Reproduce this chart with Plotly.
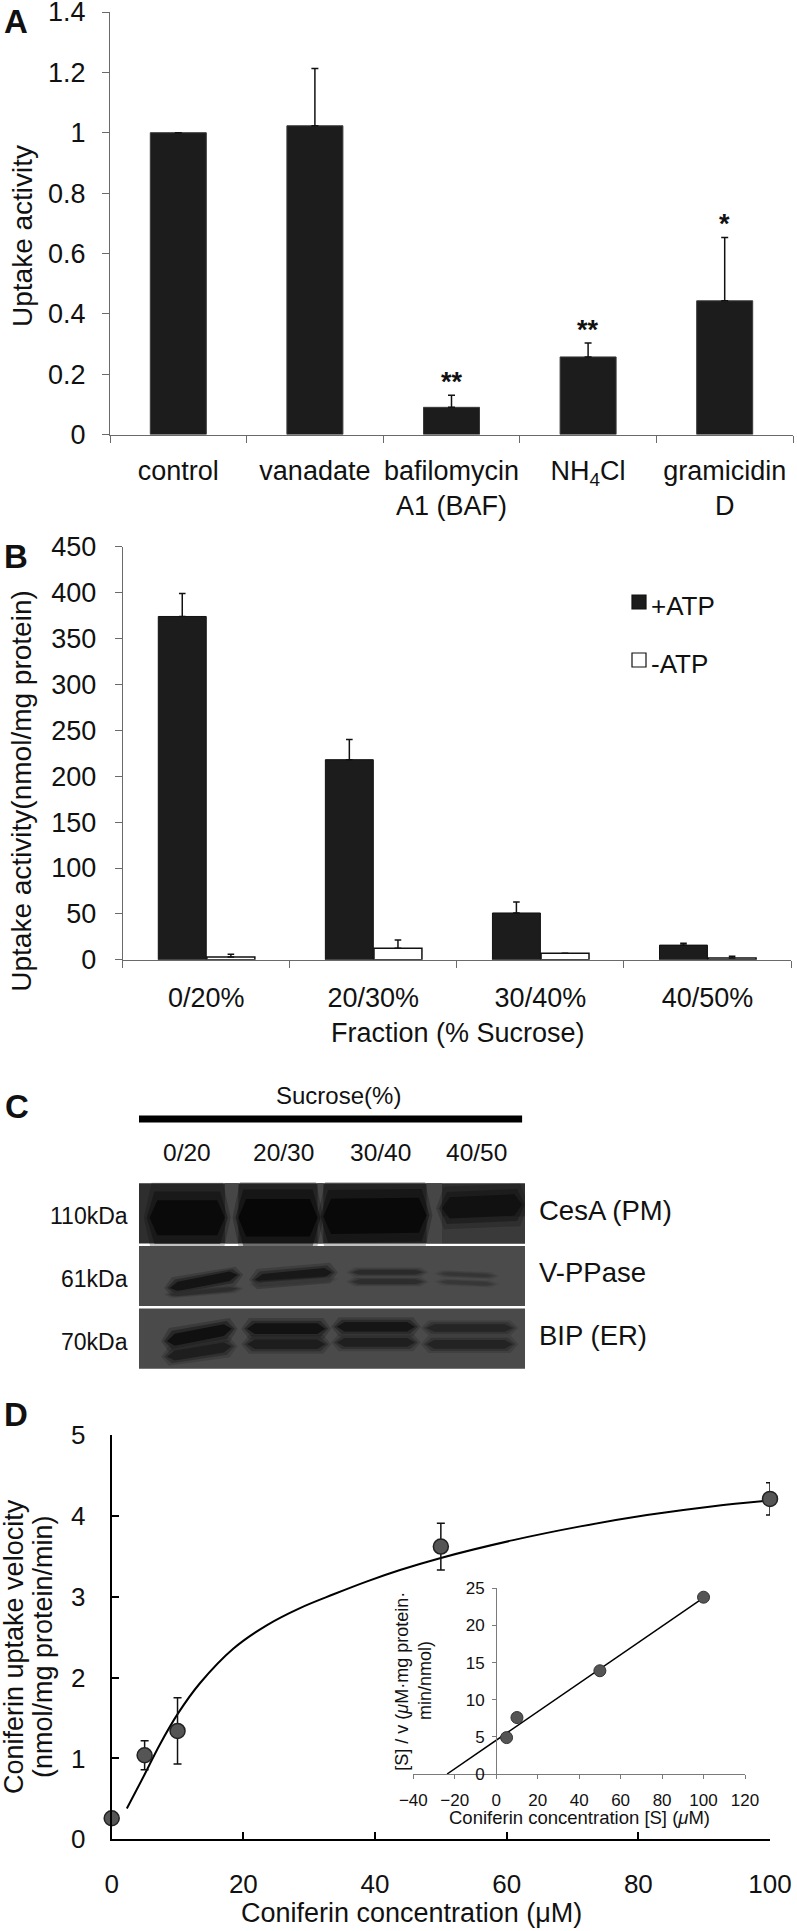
import plotly.graph_objects as go

W, H = 797, 1931
FONT = "Liberation Sans, Arial, Helvetica, sans-serif"


def px(x):
    return x / W


def py(y):
    return 1 - y / H


# ---------------- data ----------------
# Panel A
a_categories = ["control", "vanadate", "bafilomycin<br>A1 (BAF)", "NH<sub>4</sub>Cl", "gramicidin<br>D"]
a_values = [1.0, 1.023, 0.09, 0.257, 0.443]
a_errors = [0.0, 0.19, 0.04, 0.046, 0.21]
a_signif = ["", "", "**", "**", "*"]
a_yticks = [0, 0.2, 0.4, 0.6, 0.8, 1.0, 1.2, 1.4]
a_yticklabels = ["0", "0.2", "0.4", "0.6", "0.8", "1", "1.2", "1.4"]

# Panel B
b_fractions = ["0/20%", "20/30%", "30/40%", "40/50%"]
b_plus_atp = [374, 218, 51, 16]
b_plus_err = [25, 22, 12, 2]
b_minus_atp = [3, 12.5, 7, 2]
b_minus_err = [3, 9, 0, 1.8]
b_yticks = [0, 50, 100, 150, 200, 250, 300, 350, 400, 450]

# Panel C (western blot)
c_lanes = ["0/20", "20/30", "30/40", "40/50"]
c_proteins = ["CesA (PM)", "V-PPase", "BIP (ER)"]
c_mw = ["110kDa", "61kDa", "70kDa"]
c_intensity = [
    [0.93, 1.0, 0.96, 0.75],   # CesA
    [1.0, 0.92, 0.6, 0.4],     # V-PPase
    [1.0, 0.97, 0.92, 0.8],    # BIP
]

# Panel D
d_conc = [0, 5, 10, 50, 100]
d_velocity = [0.26, 1.04, 1.34, 3.62, 4.21]
d_err = [0, 0.18, 0.41, 0.29, 0.2]
d_fit_x = [2.3, 4.8, 7.3, 10.1, 13.4, 18.5, 23.6, 28.6, 33.7, 38.8, 43.8, 50, 61, 71.2, 81.3, 91.4, 100]
d_fit_y = [0.38, 0.77, 1.17, 1.56, 1.93, 2.36, 2.65, 2.86, 3.03, 3.19, 3.33, 3.48, 3.70, 3.87, 4.01, 4.12, 4.19]

# Inset (Hanes-Woolf)
inset_conc = [5, 10, 50, 100]
inset_ratio = [4.9, 7.6, 13.9, 23.8]
inset_fit_x = [-23.7, 102]
inset_fit_y = [0, 24.1]

# ---------------- styles ----------------
BAR_DARK = "#1c1c1c"
AX_GRAY = "#6a6a6a"
TXT = "#111111"


def f(size, bold=False):
    return dict(family=FONT, size=size, color=TXT, weight="bold" if bold else "normal")


fig = go.Figure()

# ---- Panel A ----
fig.add_trace(go.Bar(
    x=a_categories, y=a_values, width=0.41,
    marker=dict(color=BAR_DARK, line=dict(color="#3a3a3a", width=1)),
    error_y=dict(type="data", array=a_errors, arrayminus=[0] * len(a_errors), symmetric=False,
                 color=TXT, thickness=1.5, width=3.5),
    xaxis="x", yaxis="y", showlegend=False))

# ---- Panel B ----
fig.add_trace(go.Bar(
    x=b_fractions, y=b_plus_atp, width=0.287, offset=-0.287, name="+ATP",
    marker=dict(color=BAR_DARK, line=dict(color="#111", width=1)),
    error_y=dict(type="data", array=b_plus_err, arrayminus=[0] * 4, symmetric=False,
                 color=TXT, thickness=1.5, width=3.3),
    xaxis="x2", yaxis="y2", showlegend=False))
fig.add_trace(go.Bar(
    x=b_fractions, y=b_minus_atp, width=0.287, offset=0.004, name="-ATP",
    marker=dict(color="white", line=dict(color="#111", width=1.5)),
    error_y=dict(type="data", array=b_minus_err, arrayminus=[0] * 4, symmetric=False,
                 color=TXT, thickness=1.5, width=3.3),
    xaxis="x2", yaxis="y2", showlegend=False))

# ---- Panel C placeholder trace (blot axes) ----
fig.add_trace(go.Scatter(x=[0, 4], y=[0, 3], mode="markers", marker=dict(opacity=0),
                         hoverinfo="skip", xaxis="x3", yaxis="y3", showlegend=False))

# ---- Panel D ----
fig.add_trace(go.Scatter(x=d_fit_x, y=d_fit_y, mode="lines",
                         line=dict(color="black", width=2, shape="spline", smoothing=1.0),
                         xaxis="x4", yaxis="y4", showlegend=False))
fig.add_trace(go.Scatter(x=d_conc, y=d_velocity, mode="markers",
                         marker=dict(size=15, color="#555555", line=dict(color="#222", width=1.5)),
                         error_y=dict(type="data", array=d_err, color=TXT, thickness=1.5, width=4),
                         cliponaxis=False, xaxis="x4", yaxis="y4", showlegend=False))

# ---- Inset ----
fig.add_trace(go.Scatter(x=inset_fit_x, y=inset_fit_y, mode="lines",
                         line=dict(color="black", width=1.5), cliponaxis=False,
                         xaxis="x5", yaxis="y5", showlegend=False))
fig.add_trace(go.Scatter(x=inset_conc, y=inset_ratio, mode="markers",
                         marker=dict(size=12, color="#555555", line=dict(color="#333", width=1)),
                         cliponaxis=False, xaxis="x5", yaxis="y5", showlegend=False))

base_ax = dict(showgrid=False, zeroline=False, showline=True, automargin=False,
               ticklabeloverflow="allow")

layout = dict(
    template="none",
    width=W, height=H, margin=dict(l=0, r=0, t=0, b=0, pad=0),
    paper_bgcolor="white", plot_bgcolor="rgba(0,0,0,0)",
    showlegend=False, barmode="overlay", font=f(26),
    # Panel A
    xaxis=dict(base_ax, domain=[px(110), px(793)], anchor="y", type="category",
               linecolor=AX_GRAY, linewidth=1.2, ticks="outside", ticklen=7, tickcolor=AX_GRAY,
               tickson="boundaries", tickfont=f(27), tickangle=0, ticklabelstandoff=12,
               range=[-0.5, 4.5]),
    yaxis=dict(base_ax, domain=[py(434.5), py(12)], anchor="x", range=[0, 1.4],
               tickvals=a_yticks, ticktext=a_yticklabels, linecolor=AX_GRAY, linewidth=1.2,
               ticks="outside", ticklen=7, tickcolor=AX_GRAY, tickfont=f(27), ticklabelstandoff=11),
    # Panel B
    xaxis2=dict(base_ax, domain=[px(122.7), px(791)], anchor="y2", type="category",
                linecolor=AX_GRAY, linewidth=1.2, ticks="outside", ticklen=7, tickcolor=AX_GRAY,
                tickson="boundaries", tickfont=f(27), tickangle=0, ticklabelstandoff=14,
                range=[-0.5, 3.5]),
    yaxis2=dict(base_ax, domain=[py(959.8), py(546.7)], anchor="x2", range=[0, 450],
                tickvals=b_yticks, linecolor=AX_GRAY, linewidth=1.2, ticks="outside", ticklen=7,
                tickcolor=AX_GRAY, tickfont=f(27), ticklabelstandoff=13),
    # Panel C (blot)
    xaxis3=dict(domain=[px(139), px(525)], anchor="y3", range=[0, 4], visible=False, automargin=False),
    yaxis3=dict(domain=[py(1370), py(1182)], anchor="x3", range=[0, 3], visible=False, automargin=False),
    # Panel D
    xaxis4=dict(base_ax, domain=[px(111.7), px(770)], anchor="y4", range=[0, 100],
                tickvals=[0, 20, 40, 60, 80, 100], linecolor="black", linewidth=2,
                ticks="inside", ticklen=7, tickwidth=1.5, tickcolor="black",
                tickfont=f(26), ticklabelstandoff=20),
    yaxis4=dict(base_ax, domain=[py(1839.3), py(1435)], anchor="x4", range=[0, 5],
                tickvals=[0, 1, 2, 3, 4, 5], linecolor="black", linewidth=2,
                ticks="inside", ticklen=7, tickwidth=1.5, tickcolor="black",
                tickfont=f(26), ticklabelstandoff=19),
    # Inset
    xaxis5=dict(base_ax, domain=[px(413.3), px(745)], anchor="y5", range=[-40, 120],
                tickvals=[-40, -20, 0, 20, 40, 60, 80, 100, 120], linecolor="#7a7a7a", linewidth=1,
                ticks="outside", ticklen=4, tickcolor="#7a7a7a", tickfont=f(17), ticklabelstandoff=7),
    yaxis5=dict(base_ax, domain=[py(1774), py(1588.3)], anchor="free", position=px(496),
                range=[0, 25], tickvals=[0, 5, 10, 15, 20, 25], linecolor="#7a7a7a", linewidth=1,
                ticks="outside", ticklen=4, tickcolor="#7a7a7a", tickfont=f(17), ticklabelstandoff=4),
)
fig.update_layout(**layout)

ann = []
shapes = []


def text(x, y, s, size, bold=False, xanchor="center", yanchor="middle", angle=0, xref="paper", yref="paper"):
    ann.append(dict(x=x, y=y, xref=xref, yref=yref, text=s, showarrow=False, font=f(size, bold),
                    xanchor=xanchor, yanchor=yanchor, textangle=angle))


# panel letters
text(px(2), py(21), "A", 33, bold=True, xanchor="left")
text(px(2), py(556), "B", 33, bold=True, xanchor="left")
text(px(3), py(1106), "C", 33, bold=True, xanchor="left")
text(px(2), py(1414), "D", 33, bold=True, xanchor="left")

# Panel A titles and significance
text(px(22.5), py(236.5), "Uptake activity", 28, angle=-90)
for cat, v, e, s in zip(a_categories, a_values, a_errors, a_signif):
    if s:
        ann.append(dict(x=cat, y=v + e, xref="x", yref="y", text=s, showarrow=False,
                        font=f(27, True), xanchor="center", yanchor="bottom", yshift=-4))

# Panel B titles and legend
text(px(22), py(791.7), "Uptake activity(nmol/mg protein)", 28, angle=-90)
text(px(457.5), py(1033), "Fraction (% Sucrose)", 27)
for label, fill, ytop in [("+ATP", BAR_DARK, 595), ("-ATP", "white", 653)]:
    shapes.append(dict(type="rect", xref="paper", yref="paper", x0=px(632), x1=px(646),
                       y0=py(ytop + 14), y1=py(ytop), fillcolor=fill, line=dict(color="#111", width=1.2)))
    text(px(649), py(ytop + 11), label, 26, xanchor="left")

# Panel C: header, lanes, blot
text(px(338.7), py(1095), "Sucrose(%)", 24)
shapes.append(dict(type="line", xref="x3", yref="paper", x0=-0.01, x1=3.97, y0=py(1119), y1=py(1119),
                   line=dict(color="black", width=7)))
for i, lane in enumerate(c_lanes):
    ann.append(dict(x=i + 0.5, y=py(1152.7), xref="x3", yref="paper", text=lane, showarrow=False,
                    font=f(24.5), xanchor="center", yanchor="middle"))

row_bg = ["#2e2e2e", "#4b4b4b", "#4a4a4a"]
row_dark = ["#070707", "#141414", "#101010"]
# band geometry per row: per lane (x0, x1, [(y_left, y_right, thickness, weight), ...])
band_geom = [
    [(0.11, 0.89, [(0.43, 0.43, 0.56, 1.0)]), (1.03, 1.85, [(0.43, 0.43, 0.6, 1.0)]),
     (1.91, 2.98, [(0.45, 0.47, 0.56, 1.0)]), (3.14, 3.97, [(0.58, 0.64, 0.34, 1.0)])],
    [(0.32, 1.02, [(0.31, 0.52, 0.15, 1.0), (0.2, 0.3, 0.06, 0.55)]),
     (1.20, 2.0, [(0.44, 0.56, 0.16, 1.0), (0.36, 0.45, 0.06, 0.4)]),
     (2.21, 2.94, [(0.56, 0.56, 0.075, 1.0), (0.41, 0.41, 0.075, 0.9)]),
     (3.12, 3.67, [(0.54, 0.5, 0.055, 1.0), (0.41, 0.37, 0.055, 0.9)])],
    [(0.29, 0.96, [(0.46, 0.66, 0.19, 1.0), (0.21, 0.38, 0.16, 0.75)]),
     (1.12, 1.93, [(0.66, 0.66, 0.17, 1.0), (0.41, 0.41, 0.15, 0.8)]),
     (2.05, 2.86, [(0.69, 0.69, 0.15, 1.0), (0.44, 0.44, 0.14, 0.8)]),
     (2.98, 3.87, [(0.67, 0.67, 0.12, 0.8), (0.41, 0.41, 0.14, 0.85)])],
]
lane_gaps = [(0.89, 1.03), (1.85, 1.91), (2.98, 3.14)]


def mix(c1, c2, t):
    a = [int(c1[i:i + 2], 16) for i in (1, 3, 5)]
    b = [int(c2[i:i + 2], 16) for i in (1, 3, 5)]
    return "#" + "".join(f"{int(round(a[k] + (b[k] - a[k]) * t)):02x}" for k in range(3))


def band_path(x0, x1, yl, yr, th):
    d = min(0.08, (x1 - x0) * 0.15)

    def yat(x):
        return yl + (yr - yl) * (x - x0) / (x1 - x0)

    pts = [(x0, yat(x0)), (x0 + d, yat(x0 + d) - th / 2), (x1 - d, yat(x1 - d) - th / 2),
           (x1, yat(x1)), (x1 - d, yat(x1 - d) + th / 2), (x0 + d, yat(x0 + d) + th / 2)]
    return "M " + " L ".join(f"{x:.4f},{y:.4f}" for x, y in pts) + " Z"


for r in range(3):
    base = 2 - r
    shapes.append(dict(type="rect", xref="x3", yref="y3", x0=0, x1=4, y0=base + 0.02, y1=base + 0.98,
                       fillcolor=row_bg[r], line=dict(width=0), layer="above"))
    if r == 0:
        for g0, g1 in lane_gaps:
            shapes.append(dict(type="rect", xref="x3", yref="y3", x0=g0, x1=g1, y0=base + 0.02,
                               y1=base + 0.98, fillcolor="#464646", line=dict(width=0), layer="above"))
        shapes.append(dict(type="rect", xref="x3", yref="y3", x0=3.14, x1=4, y0=base + 0.02,
                           y1=base + 0.45, fillcolor="#3a3a3a", line=dict(width=0), layer="above"))
    for lane in range(4):
        x0, x1, bands = band_geom[r][lane]
        for yl, yr, th, w in bands:
            col = mix(row_bg[r], row_dark[r], c_intensity[r][lane] * w)
            for grow, op in [(2.0, 0.25), (1.5, 0.45), (1.0, 1.0)]:
                ext = 0.03 * (grow - 1) * 2
                shapes.append(dict(type="path", xref="x3", yref="y3",
                                   path=band_path(x0 - ext, x1 + ext, base + yl, base + yr, th * grow),
                                   fillcolor=col, opacity=op, line=dict(width=0), layer="above"))
    ann.append(dict(x=0, y=base + 0.45, xref="x3", yref="y3", text=c_mw[r], showarrow=False,
                    font=f(23), xanchor="right", yanchor="middle", xshift=-9))
    ann.append(dict(x=4, y=base + 0.55, xref="x3", yref="y3", text=c_proteins[r], showarrow=False,
                    font=f(27.5), xanchor="left", yanchor="middle", xshift=12))

# Panel D titles
text(px(14), py(1647), "Coniferin uptake velocity", 27, angle=-90)
text(px(43), py(1647), "(nmol/mg protein/min)", 27, angle=-90)
text(px(411.7), py(1913), "Coniferin concentration (μM)", 27)
# Inset titles
text(px(401.7), py(1681), "[S] / v (<i>μ</i>M·mg protein·", 18, angle=-90)
text(px(425), py(1681), "min/nmol)", 18, angle=-90)
text(px(579.2), py(1817.5), "Coniferin concentration [S] (<i>μ</i>M)", 18.5)

fig.update_layout(annotations=ann, shapes=shapes)
fig.write_html("out.html", config={"displayModeBar": False},
               post_script="document.body.style.margin='0px';")
